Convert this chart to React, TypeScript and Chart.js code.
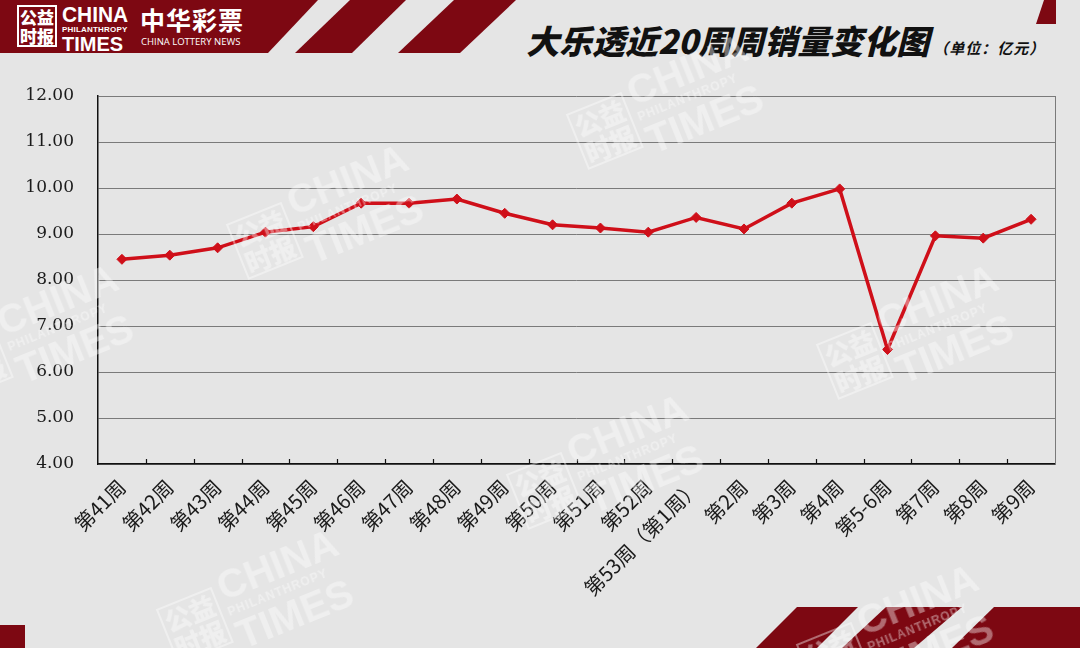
import { useEffect, useRef } from 'react';
import { Chart, registerables } from 'chart.js';

Chart.register(...registerables);

// 大乐透近20周周销量（亿元）
const WEEKS = [
  '第41周', '第42周', '第43周', '第44周', '第45周', '第46周', '第47周', '第48周',
  '第49周', '第50周', '第51周', '第52周', '第53周（第1周）', '第2周', '第3周',
  '第4周', '第5-6周', '第7周', '第8周', '第9周',
];
const SALES = [
  8.45, 8.54, 8.7, 9.04, 9.16, 9.67, 9.67, 9.76, 9.45, 9.2,
  9.13, 9.04, 9.36, 9.11, 9.67, 9.98, 6.49, 8.96, 8.91, 9.32,
];
const Y_MIN = 4;
const Y_MAX = 12;

const PALETTE = {
  bg: '#e5e5e5',
  brand: '#7d0812',
  line: '#cf0f19',
  grid: '#7a7a7a',
  axis: '#111111',
  text: '#1a1a1a',
} as const;

const CJK = '"Noto Sans CJK SC", "Noto Sans", sans-serif';

// right frame line + short inward category ticks, like the spreadsheet original
const frameExtras = {
  id: 'frameExtras',
  afterDatasetsDraw(chart: Chart) {
    const { ctx, chartArea } = chart;
    const x = chart.scales.x;
    ctx.save();
    ctx.strokeStyle = PALETTE.grid;
    ctx.lineWidth = 1;
    ctx.beginPath();
    ctx.moveTo(chartArea.right + 0.5, chartArea.top);
    ctx.lineTo(chartArea.right + 0.5, chartArea.bottom);
    ctx.stroke();
    ctx.strokeStyle = PALETTE.axis;
    ctx.lineWidth = 1.2;
    ctx.beginPath();
    for (let i = 1; i < WEEKS.length; i++) {
      const px = Math.round(x.getPixelForValue(i - 0.5)) + 0.5;
      ctx.moveTo(px, chartArea.bottom);
      ctx.lineTo(px, chartArea.bottom - 5);
    }
    ctx.stroke();
    ctx.restore();
  },
};

function Watermark({ left, top }: { left: number; top: number }) {
  const c = 'rgba(255,255,255,0.4)';
  return (
    <div
      style={{
        position: 'absolute',
        left,
        top,
        transform: 'rotate(-22deg)',
        display: 'flex',
        alignItems: 'center',
        gap: 6,
        color: c,
        pointerEvents: 'none',
        fontFamily: '"Liberation Sans", Arial, sans-serif',
        fontWeight: 900,
      }}
    >
      <div style={{ fontFamily: CJK, fontSize: 26, lineHeight: '28px', border: `2px solid ${c}`, padding: '0 2px' }}>
        公益<br />时报
      </div>
      <div style={{ lineHeight: 1 }}>
        <div style={{ fontSize: 40 }}>CHINA</div>
        <div style={{ fontSize: 12, letterSpacing: 1 }}>PHILANTHROPY</div>
        <div style={{ fontSize: 40 }}>TIMES</div>
      </div>
    </div>
  );
}

function SalesChart() {
  const canvasRef = useRef<HTMLCanvasElement>(null);

  useEffect(() => {
    if (!canvasRef.current) return;
    const chart = new Chart(canvasRef.current, {
      type: 'line',
      data: {
        labels: WEEKS,
        datasets: [
          {
            data: SALES,
            borderColor: PALETTE.line,
            backgroundColor: PALETTE.line,
            borderWidth: 3.5,
            pointStyle: 'rectRot',
            pointRadius: 5,
            pointBorderWidth: 1,
            tension: 0,
          },
        ],
      },
      options: {
        animation: false,
        responsive: true,
        maintainAspectRatio: false,
        layout: { padding: { top: 96, right: 25, bottom: 0, left: 0 } },
        plugins: { legend: { display: false }, tooltip: { enabled: false } },
        scales: {
          x: {
            offset: true,
            afterFit: (scale) => {
              scale.height = 184;
            },
            grid: { display: false, drawTicks: false },
            border: { color: PALETTE.axis, width: 1.5 },
            ticks: {
              autoSkip: false,
              maxRotation: 45,
              minRotation: 45,
              padding: 11,
              color: PALETTE.text,
              font: { family: CJK, size: 20 },
            },
          },
          y: {
            min: Y_MIN,
            max: Y_MAX,
            afterFit: (scale) => {
              scale.width = 98;
            },
            grid: { color: PALETTE.grid, lineWidth: 1, drawTicks: false },
            border: { color: PALETTE.axis, width: 1.5 },
            ticks: {
              stepSize: 1,
              padding: 24,
              color: PALETTE.text,
              font: { family: '"DejaVu Serif", serif', size: 17 },
              callback: (v) => Number(v).toFixed(2),
            },
          },
        },
      },
      plugins: [frameExtras],
    });
    return () => chart.destroy();
  }, []);

  return (
    <div style={{ position: 'absolute', left: 0, top: 0, width: 1080, height: 648 }}>
      <canvas ref={canvasRef} />
    </div>
  );
}

export default function App() {
  const white = '#ffffff';
  return (
    <div
      style={{
        position: 'absolute',
        left: 0,
        top: 0,
        width: 1080,
        height: 648,
        overflow: 'hidden',
        background: PALETTE.bg,
      }}
    >
      {/* header band and stripes */}
      <div style={{ position: 'absolute', left: 0, top: 0, width: 320, height: 53, background: PALETTE.brand, clipPath: 'polygon(0 0, 318px 0, 268px 53px, 0 53px)' }} />
      <div style={{ position: 'absolute', left: 295, top: 0, width: 115, height: 53, background: PALETTE.brand, clipPath: 'polygon(55px 0, 111px 0, 57px 53px, 0 53px)' }} />
      <div style={{ position: 'absolute', left: 398, top: 0, width: 122, height: 53, background: PALETTE.brand, clipPath: 'polygon(56px 0, 118px 0, 62px 53px, 0 53px)' }} />
      <div style={{ position: 'absolute', left: 1036, top: 0, width: 24, height: 24, background: PALETTE.brand, clipPath: 'polygon(8px 0, 20px 0, 20px 24px, 0 24px)' }} />

      {/* bottom decorations */}
      <div style={{ position: 'absolute', left: 0, top: 625, width: 25, height: 23, background: PALETTE.brand }} />
      <div style={{ position: 'absolute', left: 756, top: 607, width: 104, height: 41, background: PALETTE.brand, clipPath: 'polygon(41px 0, 102px 0, 61px 41px, 0 41px)' }} />
      <div style={{ position: 'absolute', left: 842, top: 607, width: 122, height: 41, background: PALETTE.brand, clipPath: 'polygon(44px 0, 120px 0, 72px 41px, 0 41px)' }} />
      <div style={{ position: 'absolute', left: 952, top: 607, width: 128, height: 41, background: PALETTE.brand, clipPath: 'polygon(42px 0, 128px 0, 128px 41px, 0 41px)' }} />

      {/* logos */}
      <div style={{ position: 'absolute', left: 17, top: 5, width: 40, height: 42, border: `2px solid ${white}`, boxSizing: 'border-box', color: white, fontFamily: CJK, fontWeight: 900, fontSize: 17, lineHeight: '19px', textAlign: 'center' }}>
        公益<br />时报
      </div>
      <div style={{ position: 'absolute', left: 62, top: 4, color: white, fontFamily: '"Liberation Sans", Arial, sans-serif', fontWeight: 700, lineHeight: 1 }}>
        <div style={{ fontSize: 22, transform: 'scaleX(0.95)', transformOrigin: 'left' }}>CHINA</div>
        <div style={{ fontSize: 8, letterSpacing: 0.2 }}>PHILANTHROPY</div>
        <div style={{ fontSize: 20 }}>TIMES</div>
      </div>
      <div style={{ position: 'absolute', left: 140, top: 7, color: white, fontFamily: CJK, fontWeight: 700, fontSize: 25, lineHeight: 1, letterSpacing: 1 }}>
        中华彩票
      </div>
      <div style={{ position: 'absolute', left: 141, top: 37, color: white, fontFamily: '"Open Sans", sans-serif', fontSize: 9.5, lineHeight: 1 }}>
        CHINA LOTTERY NEWS
      </div>

      {/* title */}
      <div style={{ position: 'absolute', left: 526, top: 18, color: '#111', fontFamily: CJK, fontWeight: 900, fontStyle: 'italic', fontSize: 33, lineHeight: '44px', whiteSpace: 'nowrap' }}>
        大乐透近20周周销量变化图
        <span style={{ fontSize: 15, fontWeight: 700, marginLeft: 4, letterSpacing: 1 }}>（单位：亿元）</span>
      </div>

      <SalesChart />

      <Watermark left={230} top={170} />
      <Watermark left={570} top={60} />
      <Watermark left={-60} top={290} />
      <Watermark left={820} top={290} />
      <Watermark left={510} top={420} />
      <Watermark left={160} top={555} />
      <Watermark left={800} top={590} />
    </div>
  );
}
